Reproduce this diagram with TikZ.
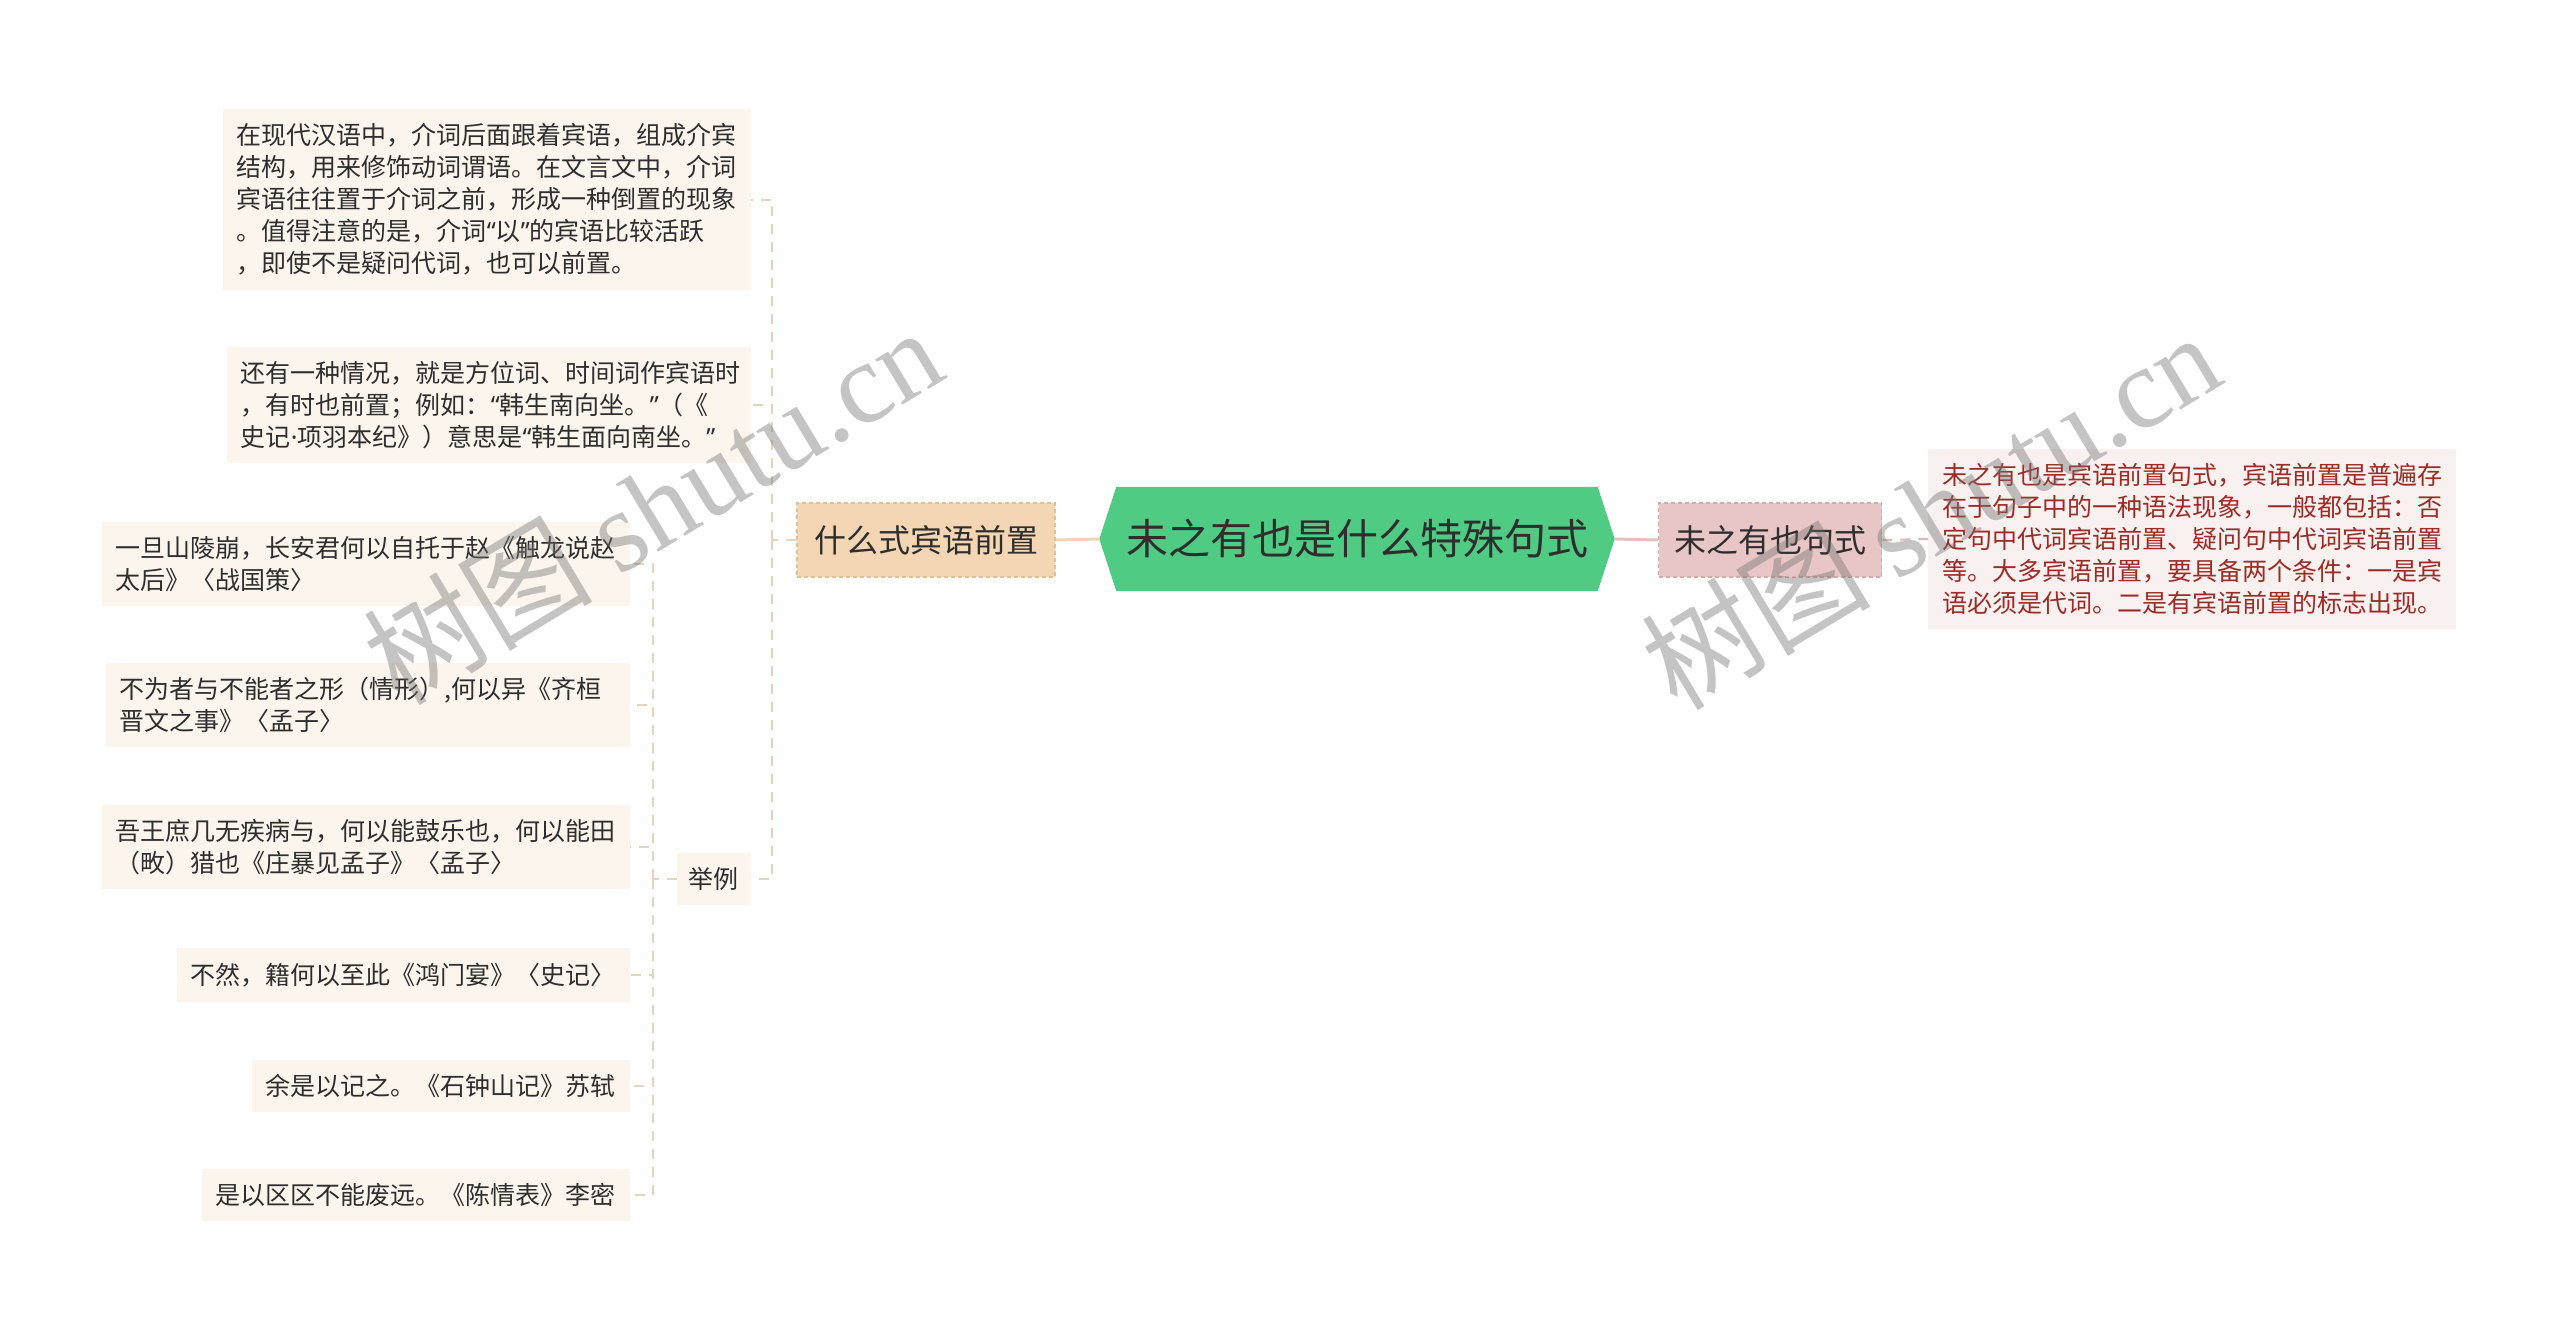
\documentclass[tikz,border=0pt]{standalone}
\usepackage{fontspec}
\setmainfont{Noto Sans CJK SC}
\newfontfamily\wmserif{Liberation Serif}
\newfontfamily\latinf{Noto Sans}
\newcommand\myqo{{\latinf “}}
\newcommand\myqc{{\latinf ”}}
\newcommand\mydot{{\latinf ·}}
\usetikzlibrary{backgrounds}
\definecolor{txt}{HTML}{2E2E2E}
\definecolor{cgreen}{HTML}{50CB83}
\definecolor{mfillL}{HTML}{F5D6B4}
\definecolor{mdrawL}{HTML}{E6BE93}
\definecolor{mfillR}{HTML}{E8C6C5}
\definecolor{mdrawR}{HTML}{D7A9A8}
\definecolor{leafL}{HTML}{FCF5EE}
\definecolor{leafR}{HTML}{F9F0F0}
\definecolor{connL}{HTML}{E6D3BC}
\definecolor{connLs}{HTML}{F2D3B3}
\definecolor{connR}{HTML}{DDB9B9}
\definecolor{connRs}{HTML}{E5C0C0}
\definecolor{redtxt}{HTML}{9E2B25}
\tikzset{
  leafbox/.style={fill=leafL, text=txt, align=left, inner xsep=14pt, inner ysep=14.5pt,
    font={\fontsize{25pt}{32pt}\selectfont}},
  leafright/.style={fill=leafR, text=redtxt, align=left, inner xsep=14pt, inner ysep=14.5pt,
    font={\fontsize{25pt}{32pt}\selectfont}},
  mainL/.style={fill=mfillL, draw=mdrawL, dash pattern=on 4pt off 3pt, line width=1.5pt,
    text=txt, minimum width=258pt, minimum height=74pt, inner sep=0pt,
    font={\fontsize{32pt}{36pt}\selectfont}},
  mainR/.style={fill=mfillR, draw=mdrawR, dash pattern=on 4pt off 3pt, line width=1.5pt,
    text=txt, minimum width=223pt, minimum height=74pt, inner sep=0pt,
    font={\fontsize{32pt}{36pt}\selectfont}},
  central/.style={text=txt, minimum width=515pt, minimum height=104pt, inner sep=0pt,
    font={\fontsize{42pt}{46pt}\selectfont}},
  conndashL/.style={draw=connL, line width=2pt, dash pattern=on 10pt off 8pt},
  conndashR/.style={draw=connR, line width=2pt, dash pattern=on 10pt off 8pt},
  watermark/.style={text=black!55, opacity=0.42, rotate=31, inner sep=0pt},
}
\begin{document}
\begin{tikzpicture}[x=1pt,y=-1pt]
\useasboundingbox (0,0) rectangle (2560,1331);

% central node
\node[central] (c) at (1357,539) {未之有也是什么特殊句式};
\begin{scope}[on background layer]
\fill[white] (0,0) rectangle (2560,1331);
\fill[cgreen] ([xshift=17pt]c.north west) -- ([xshift=-17pt]c.north east) -- (c.east)
  -- ([xshift=-17pt]c.south east) -- ([xshift=17pt]c.south west) -- (c.west) -- cycle;
\end{scope}

% main branches
\node[mainL] (m1) at (926,540) {什么式宾语前置};
\node[mainR] (r1) at (1770,540) {未之有也句式};

% right leaf
\node[leafright, anchor=west] (rl) at (1928,539) {未之有也是宾语前置句式，宾语前置是普遍存\\在于句子中的一种语法现象，一般都包括：否\\定句中代词宾语前置、疑问句中代词宾语前置\\等。大多宾语前置，要具备两个条件：一是宾\\语必须是代词。二是有宾语前置的标志出现。};

% left leaves
\node[leafbox, anchor=east] (l1) at (751,199.5) {在现代汉语中，介词后面跟着宾语，组成介宾\\结构，用来修饰动词谓语。在文言文中，介词\\宾语往往置于介词之前，形成一种倒置的现象\\。值得注意的是，介词\myqo 以\myqc 的宾语比较活跃\\，即使不是疑问代词，也可以前置。};
\node[leafbox, anchor=east, text width=496pt] (l2) at (751,405) {还有一种情况，就是方位词、时间词作宾语时\\，有时也前置；例如：\myqo 韩生南向坐。\myqc（《\\史记\mydot 项羽本纪》）意思是\myqo 韩生面向南坐。\myqc};
\node[leafbox, anchor=east, inner xsep=12pt] (ex) at (751,879) {举例};

% examples
\node[leafbox, anchor=east] (e1) at (630,564) {一旦山陵崩，长安君何以自托于赵《触龙说赵\\太后》〈战国策〉};
\node[leafbox, anchor=east, text width=496pt] (e2) at (630,705) {不为者与不能者之形（情形）,何以异《齐桓\\晋文之事》〈孟子〉};
\node[leafbox, anchor=east] (e3) at (630,847) {吾王庶几无疾病与，何以能鼓乐也，何以能田\\（畋）猎也《庄暴见孟子》〈孟子〉};
\node[leafbox, anchor=east] (e4) at (630,975) {不然，籍何以至此《鸿门宴》〈史记〉};
\node[leafbox, anchor=east] (e5) at (630,1086) {余是以记之。《石钟山记》苏轼};
\node[leafbox, anchor=east] (e6) at (630,1195) {是以区区不能废远。《陈情表》李密};

% connectors
\draw[draw=connLs, line width=3pt] (c.west) -- (m1.east);
\draw[draw=connRs, line width=3pt] (c.east) -- (r1.west);
\draw[conndashR] (r1.east) -- (rl.west);

\coordinate (t1) at (772,540);
\draw[conndashL] (m1.west) -- (t1);
\draw[conndashL] (t1) |- (l1.east);
\draw[conndashL] (t1) |- (l2.east);
\draw[conndashL] (t1) |- (ex.east);

\coordinate (t2) at (653,879);
\draw[conndashL] (ex.west) -- (t2);
\foreach \n in {e1,e2,e3,e4,e5,e6}{
  \draw[conndashL] (t2) |- (\n.east);
}

% watermarks
\node[watermark] (w1) at (652,505) {\fontsize{115pt}{120pt}\selectfont 树图 {\wmserif shutu.cn}};
\node[watermark] (w2) at (1930,510) {\fontsize{115pt}{120pt}\selectfont 树图 {\wmserif shutu.cn}};
\end{tikzpicture}
\end{document}
